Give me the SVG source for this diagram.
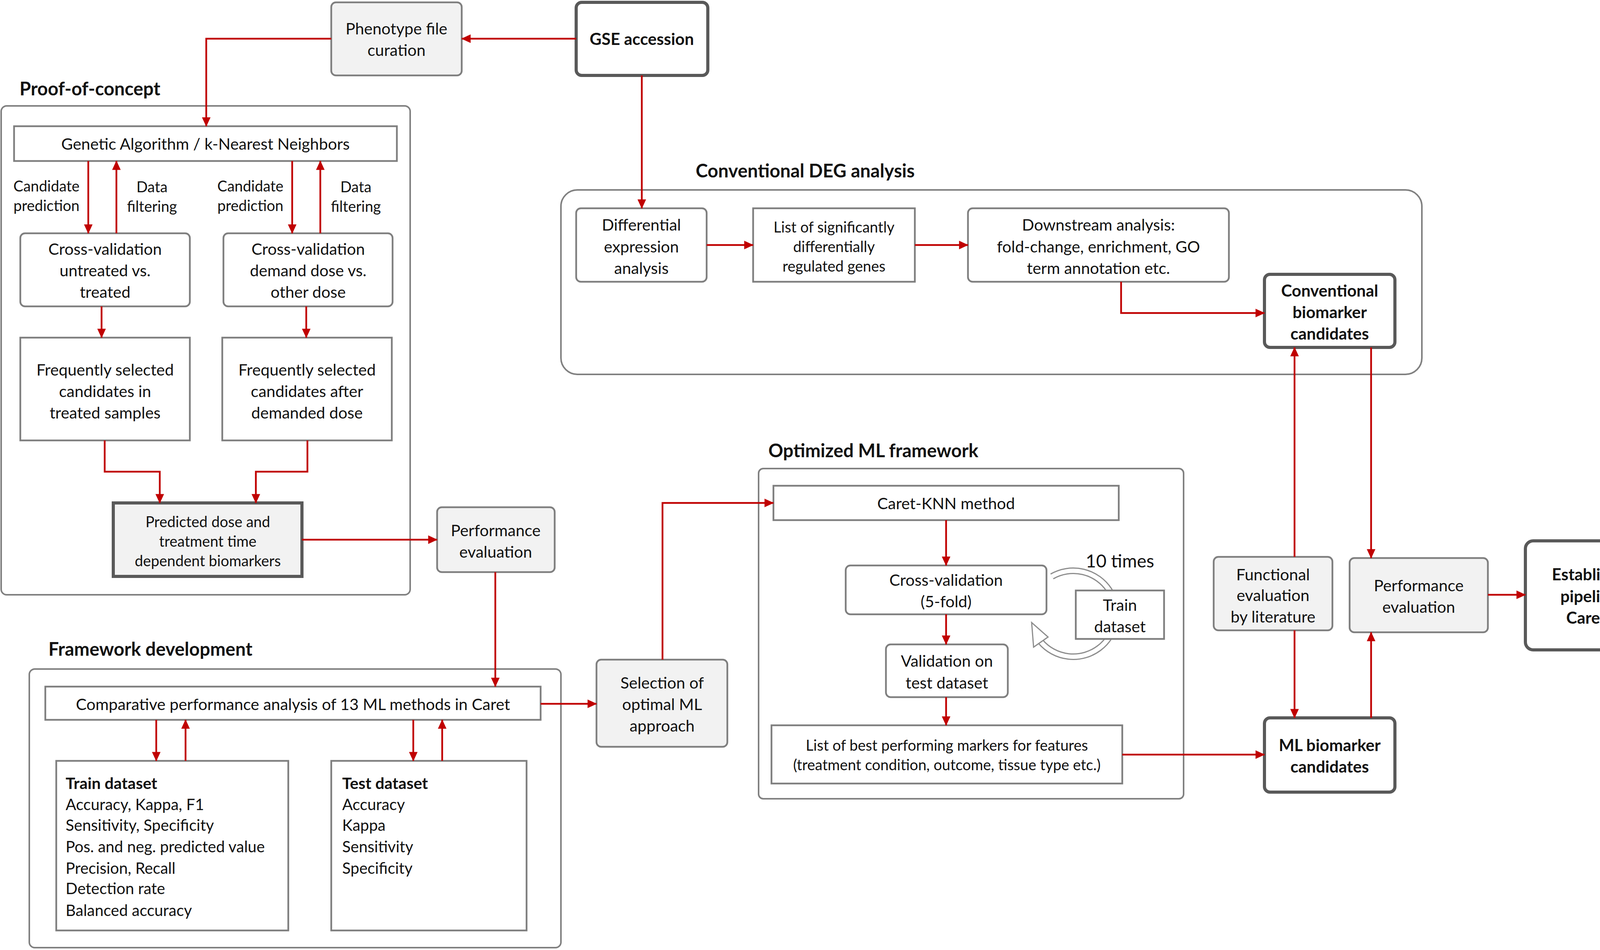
<svg xmlns="http://www.w3.org/2000/svg" width="4331" height="2431" viewBox="0 0 4331 2431">
<defs>
<marker id="ah" viewBox="0 0 20 20" refX="19" refY="10" markerWidth="24" markerHeight="22" orient="auto" markerUnits="userSpaceOnUse" preserveAspectRatio="none">
<path d="M0,0 L20,10 L0,20 z" fill="#c00000"/>
</marker>
<style>
text{font-family:Lato,"Open Sans","Liberation Sans",sans-serif;fill:#111;}
.t{font-size:41px;text-anchor:middle;dominant-baseline:central;}
.s{font-size:38px;text-anchor:middle;dominant-baseline:central;}
.b{font-size:42px;font-weight:bold;text-anchor:middle;dominant-baseline:central;}
.h{font-size:47px;font-weight:bold;dominant-baseline:central;}
.l{font-size:40px;dominant-baseline:central;}
.lb{font-size:41px;font-weight:bold;dominant-baseline:central;}
.cont{fill:#fff;stroke:#808080;stroke-width:4;}
.box{fill:#fff;stroke:#7f7f7f;stroke-width:4.5;}
.gray{fill:#f2f2f2;stroke:#7f7f7f;stroke-width:4.5;}
.thick{fill:#fff;stroke:#595959;stroke-width:8;}
.conn path{fill:none;stroke:#c00000;stroke-width:4.5;marker-end:url(#ah);}
</style>
</defs>
<rect width="4331" height="2431" fill="#fff"/>

<!-- containers -->
<g id="proof-of-concept">
<rect class="cont" x="3" y="271" width="1047" height="1251" rx="14"/>
<text class="h" x="50" y="226">Proof-of-concept</text>
</g>
<g id="deg-analysis">
<rect class="cont" x="1436" y="486" width="2204" height="472" rx="42"/>
<text class="h" x="1781" y="436">Conventional DEG analysis</text>
</g>
<g id="optimized-ml">
<rect class="cont" x="1942" y="1199" width="1088" height="845" rx="12"/>
<text class="h" x="1967" y="1152">Optimized ML framework</text>
</g>
<g id="framework-dev">
<rect class="cont" x="75" y="1712" width="1361" height="713" rx="14"/>
<text class="h" x="124" y="1660">Framework development</text>
</g>

<!-- nodes -->
<g id="phenotype">
<rect class="gray" x="848" y="6" width="334" height="187" rx="12"/>
<text class="t" x="1015" y="72">Phenotype file</text>
<text class="t" x="1015" y="127">curation</text>
</g>
<g id="gse">
<rect class="thick" x="1475" y="6" width="337" height="187" rx="14"/>
<text class="b" x="1643" y="99">GSE accession</text>
</g>
<g id="ga-knn">
<rect class="box" x="36" y="323" width="980" height="89"/>
<text class="t" x="526" y="367">Genetic Algorithm / k-Nearest Neighbors</text>
</g>
<g id="labels-ga">
<text class="s" x="119" y="475">Candidate</text>
<text class="s" x="119" y="525">prediction</text>
<text class="s" x="389" y="477">Data</text>
<text class="s" x="389" y="527">filtering</text>
<text class="s" x="641" y="475">Candidate</text>
<text class="s" x="641" y="525">prediction</text>
<text class="s" x="911" y="477">Data</text>
<text class="s" x="911" y="527">filtering</text>
</g>
<g id="cv-untreated">
<rect class="box" x="52" y="597" width="434" height="187" rx="12"/>
<text class="t" x="269" y="636">Cross-validation</text>
<text class="t" x="269" y="691">untreated vs.</text>
<text class="t" x="269" y="746">treated</text>
</g>
<g id="cv-dose">
<rect class="box" x="572" y="597" width="433" height="187" rx="12"/>
<text class="t" x="789" y="636">Cross-validation</text>
<text class="t" x="789" y="691">demand dose vs.</text>
<text class="t" x="789" y="746">other dose</text>
</g>
<g id="freq-treated">
<rect class="box" x="52" y="864" width="434" height="263"/>
<text class="t" x="269" y="945">Frequently selected</text>
<text class="t" x="269" y="1000">candidates in</text>
<text class="t" x="269" y="1055">treated samples</text>
</g>
<g id="freq-dose">
<rect class="box" x="569" y="864" width="434" height="263"/>
<text class="t" x="786" y="945">Frequently selected</text>
<text class="t" x="786" y="1000">candidates after</text>
<text class="t" x="786" y="1055">demanded dose</text>
</g>
<g id="predicted">
<rect x="290" y="1287" width="483" height="188" fill="#f2f2f2" stroke="#595959" stroke-width="8"/>
<text class="s" x="532" y="1334">Predicted dose and</text>
<text class="s" x="532" y="1384">treatment time</text>
<text class="s" x="532" y="1434">dependent biomarkers</text>
</g>
<g id="perf-eval-1">
<rect class="gray" x="1119" y="1298" width="301" height="166" rx="12"/>
<text class="t" x="1269" y="1356">Performance</text>
<text class="t" x="1269" y="1411">evaluation</text>
</g>
<g id="comparative">
<rect class="box" x="116" y="1757" width="1268" height="85"/>
<text class="t" x="750" y="1801">Comparative performance analysis of 13 ML methods in Caret</text>
</g>
<g id="train-dataset">
<rect class="box" x="144" y="1947" width="594" height="434"/>
<text class="lb" x="168" y="2003">Train dataset</text>
<text class="l" x="168" y="2058">Accuracy, Kappa, F1</text>
<text class="l" x="168" y="2111">Sensitivity, Specificity</text>
<text class="l" x="168" y="2166">Pos. and neg. predicted value</text>
<text class="l" x="168" y="2221">Precision, Recall</text>
<text class="l" x="168" y="2273">Detection rate</text>
<text class="l" x="168" y="2329">Balanced accuracy</text>
</g>
<g id="test-dataset">
<rect class="box" x="848" y="1947" width="500" height="434"/>
<text class="lb" x="876" y="2003">Test dataset</text>
<text class="l" x="876" y="2058">Accuracy</text>
<text class="l" x="876" y="2111">Kappa</text>
<text class="l" x="876" y="2166">Sensitivity</text>
<text class="l" x="876" y="2221">Specificity</text>
</g>
<g id="selection">
<rect class="gray" x="1527" y="1688" width="335" height="223" rx="12"/>
<text class="t" x="1695" y="1746">Selection of</text>
<text class="t" x="1695" y="1801">optimal ML</text>
<text class="t" x="1695" y="1856">approach</text>
</g>
<g id="caret-knn">
<rect class="box" x="1980" y="1243" width="884" height="88"/>
<text class="t" x="2422" y="1287">Caret-KNN method</text>
</g>
<g id="cv-5fold">
<rect class="box" x="2165" y="1447" width="514" height="125" rx="12"/>
<text class="t" x="2422" y="1483">Cross-validation</text>
<text class="t" x="2422" y="1538">(5-fold)</text>
</g>
<g id="loop">
<path d="M2693,1475 A110,110 0 1 1 2664,1642" fill="none" stroke="#8c8c8c" stroke-width="17"/>
<path d="M2693,1475 A110,110 0 1 1 2664,1642" fill="none" stroke="#fff" stroke-width="11"/>
<polygon points="2641,1593 2646,1656 2683,1630" fill="#fff" stroke="#8c8c8c" stroke-width="3"/>
<text x="2867" y="1434" style="font-size:46px;text-anchor:middle;dominant-baseline:central;">10 times</text>
</g>
<g id="train-loop">
<rect class="box" x="2754" y="1511" width="226" height="124"/>
<text class="t" x="2867" y="1547">Train</text>
<text class="t" x="2867" y="1602">dataset</text>
</g>
<g id="validation">
<rect class="box" x="2268" y="1649" width="312" height="135" rx="12"/>
<text class="t" x="2424" y="1690">Validation on</text>
<text class="t" x="2424" y="1746">test dataset</text>
</g>
<g id="best-markers">
<rect class="box" x="1975" y="1856" width="898" height="149"/>
<text class="s" x="2424" y="1906">List of best performing markers for features</text>
<text class="s" x="2424" y="1956">(treatment condition, outcome, tissue type etc.)</text>
</g>
<g id="differential">
<rect class="box" x="1475" y="533" width="334" height="188" rx="12"/>
<text class="t" x="1642" y="574">Differential</text>
<text class="t" x="1642" y="630">expression</text>
<text class="t" x="1642" y="685">analysis</text>
</g>
<g id="sig-list">
<rect class="box" x="1928" y="533" width="414" height="188"/>
<text class="s" x="2135" y="580">List of significantly</text>
<text class="s" x="2135" y="630">differentially</text>
<text class="s" x="2135" y="680">regulated genes</text>
</g>
<g id="downstream">
<rect class="box" x="2478" y="533" width="668" height="188" rx="12"/>
<text class="t" x="2812" y="574">Downstream analysis:</text>
<text class="t" x="2812" y="630">fold-change, enrichment, GO</text>
<text class="t" x="2812" y="685">term annotation etc.</text>
</g>
<g id="conv-biomarker">
<rect class="thick" x="3237" y="702" width="334" height="187" rx="14"/>
<text class="b" x="3404" y="743">Conventional</text>
<text class="b" x="3404" y="798">biomarker</text>
<text class="b" x="3404" y="853">candidates</text>
</g>
<g id="functional">
<rect class="gray" x="3107" y="1425" width="304" height="188" rx="12"/>
<text class="t" x="3259" y="1469">Functional</text>
<text class="t" x="3259" y="1522">evaluation</text>
<text class="t" x="3259" y="1577">by literature</text>
</g>
<g id="perf-eval-2">
<rect class="gray" x="3455" y="1428" width="354" height="190" rx="12"/>
<text class="t" x="3632" y="1497">Performance</text>
<text class="t" x="3632" y="1552">evaluation</text>
</g>
<g id="established">
<rect class="thick" x="3905" y="1384" width="420" height="279" rx="20"/>
<text class="b" x="4115" y="1469">Established ML</text>
<text class="b" x="4115" y="1525">pipeline with</text>
<text class="b" x="4115" y="1580">Caret-KNN</text>
</g>
<g id="ml-biomarker">
<rect class="thick" x="3237" y="1837" width="334" height="190" rx="14"/>
<text class="b" x="3404" y="1906">ML biomarker</text>
<text class="b" x="3404" y="1961">candidates</text>
</g>

<!-- connectors -->
<g id="connectors" class="conn">
<path d="M1475,99 L1182,99"/>
<path d="M848,99 L528,99 L528,323"/>
<path d="M226,412 L226,597"/>
<path d="M298,597 L298,412"/>
<path d="M748,412 L748,597"/>
<path d="M820,597 L820,412"/>
<path d="M260,784 L260,864"/>
<path d="M784,784 L784,864"/>
<path d="M268,1127 L268,1207 L409,1207 L409,1287"/>
<path d="M787,1127 L787,1207 L655,1207 L655,1287"/>
<path d="M773,1381 L1119,1381"/>
<path d="M1268,1464 L1268,1757"/>
<path d="M1384,1801 L1527,1801"/>
<path d="M400,1842 L400,1947"/>
<path d="M475,1947 L475,1842"/>
<path d="M1058,1842 L1058,1947"/>
<path d="M1132,1947 L1132,1842"/>
<path d="M1696,1688 L1696,1287 L1980,1287"/>
<path d="M2422,1331 L2422,1447"/>
<path d="M2422,1572 L2422,1649"/>
<path d="M2422,1784 L2422,1856"/>
<path d="M2873,1931 L3237,1931"/>
<path d="M1643,193 L1643,533"/>
<path d="M1809,627 L1928,627"/>
<path d="M2342,627 L2478,627"/>
<path d="M2870,721 L2870,801 L3237,801"/>
<path d="M3314,1425 L3314,889"/>
<path d="M3510,889 L3510,1428"/>
<path d="M3314,1613 L3314,1837"/>
<path d="M3510,1837 L3510,1618"/>
<path d="M3809,1522 L3905,1522"/>
</g>
</svg>
